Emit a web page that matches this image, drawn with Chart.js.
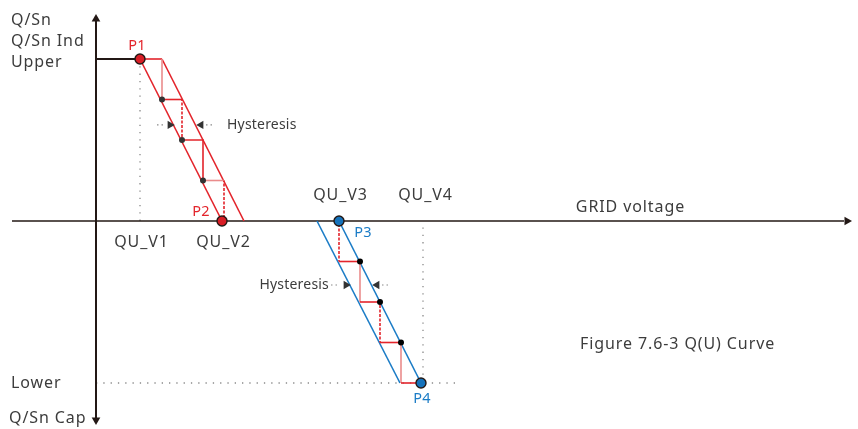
<!DOCTYPE html>
<html>
<head>
<meta charset="utf-8">
<script src="https://cdn.jsdelivr.net/npm/chart.js@4.4.1/dist/chart.umd.min.js"></script>
<style>
    body { margin: 0; background: #ffffff; }
    canvas { display: block; }
</style>
</head>
<body>
<canvas id="quChart" width="858" height="429"></canvas>
<script>
// voltage (x) in arbitrary units from the origin, Q/Sn (y) from -1 (Lower) to 1 (Upper)
const quVoltages = [0.44, 1.26, 2.43, 3.25];          // QU_V1 .. QU_V4
const quLabels = ['QU_V1', 'QU_V2', 'QU_V3', 'QU_V4'];

const inductiveLimit = [[0, 1], [0.44, 1]];
const redLowerEdge = [[0.44, 1], [1.26, 0]];
const redUpperEdge = [[0.66, 1], [1.48, 0]];
const blueLeftEdge = [[2.21, 0], [3.04, -1]];
const blueRightEdge = [[2.43, 0], [3.25, -1]];

const redStairV = [0.44, 0.66, 0.66, 0.86, 0.86, 1.07, 1.07, 1.28, 1.28];
const redStairQ = [1, 1, 0.75, 0.75, 0.5, 0.5, 0.25, 0.25, 0];
const blueStairV = [2.43, 2.43, 2.64, 2.64, 2.84, 2.84, 3.05, 3.05, 3.25];
const blueStairQ = [0, -0.25, -0.25, -0.5, -0.5, -0.75, -0.75, -1, -1];

const redStepDots = [[0.66, 0.75], [0.86, 0.5], [1.07, 0.25]];
const blueStepDots = [[2.64, -0.25], [2.84, -0.5], [3.05, -0.75]];

const redPoints = [[0.44, 1], [1.26, 0]];     // P1, P2
const bluePoints = [[2.43, 0], [3.25, -1]];   // P3, P4

const guideV1 = [[0.44, 1], [0.44, 0]];
const guideV4 = [[3.27, -0.04], [3.27, -1]];
const guideLower = [[0, -1], [3.64, -1]];

// segment look for each stair, one entry per step
const redStairStyle = ['red', 'pink', 'red', 'dot', 'red', 'red', 'pink', 'dot'];
const blueStairStyle = ['dot', 'red', 'pink', 'red', 'dot', 'red', 'pink', 'red'];

const RED = '#e3242b';
const PINK = '#ea8c8c';
const BLUE = '#1b7cc6';
const INK = '#231815';
const GREY_TEXT = '#3c3c3c';

function xy(pairs) {
    return pairs.map(p => ({ x: p[0], y: p[1] }));
}

function zipXY(xs, ys) {
    return xs.map((x, i) => ({ x: x, y: ys[i] }));
}

function line(pairs, color, width, dash) {
    return {
        data: xy(pairs),
        showLine: true,
        borderColor: color,
        borderWidth: width,
        borderDash: dash || [],
        pointRadius: 0,
        fill: false,
    };
}

function stair(xs, ys, styles) {
    return {
        data: zipXY(xs, ys),
        showLine: true,
        borderWidth: 1.6,
        borderColor: RED,
        pointRadius: 0,
        fill: false,
        segment: {
            borderColor: ctx => styles[ctx.p0DataIndex] === 'pink' ? PINK : RED,
            borderDash: ctx => styles[ctx.p0DataIndex] === 'dot' ? [1.5, 3] : [],
        },
    };
}

function markers(pairs, color, radius, border, style, rotation) {
    return {
        data: xy(pairs),
        showLine: false,
        pointRadius: radius,
        pointStyle: style || 'circle',
        rotation: rotation || 0,
        backgroundColor: color,
        borderColor: border,
        borderWidth: border === color ? 0 : 1.4,
    };
}

// axes and hysteresis hints
const yAxisLine = [[0, 1.24], [0, -1.216]];
const xAxisLine = [[-0.84, 0], [7.48, 0]];
const hyst1Left = [[0.61, 0.593], [0.70, 0.593]];
const hyst1Right = [[1.10, 0.593], [1.19, 0.593]];
const hyst2Left = [[2.35, -0.395], [2.44, -0.395]];
const hyst2Right = [[2.86, -0.395], [2.95, -0.395]];

const textLabels = [
    { text: 'Q/Sn', x: -0.85, y: 1.241, align: 'left', color: GREY_TEXT, size: 16 },
    { text: 'Q/Sn Ind', x: -0.85, y: 1.111, align: 'left', color: GREY_TEXT, size: 16 },
    { text: 'Upper', x: -0.85, y: 0.981, align: 'left', color: GREY_TEXT, size: 16 },
    { text: 'Lower', x: -0.85, y: -1.0, align: 'left', color: GREY_TEXT, size: 16 },
    { text: 'Q/Sn Cap', x: -0.87, y: -1.216, align: 'left', color: GREY_TEXT, size: 16 },
    { text: 'P1', x: 0.41, y: 1.08, align: 'center', color: RED, size: 14.5 },
    { text: 'P2', x: 1.05, y: 0.056, align: 'center', color: RED, size: 14.5 },
    { text: 'P3', x: 2.67, y: -0.074, align: 'center', color: BLUE, size: 14.5 },
    { text: 'P4', x: 3.26, y: -1.099, align: 'center', color: BLUE, size: 14.5 },
    { text: 'GRID voltage', x: 5.34, y: 0.086, align: 'center', color: GREY_TEXT, size: 16 },
    { text: 'Figure 7.6-3 Q(U) Curve', x: 4.84, y: -0.765, align: 'left', color: GREY_TEXT, size: 16 },
    { text: 'Hysteresis', x: 1.31, y: 0.593, align: 'left', color: GREY_TEXT, size: 14 },
    { text: 'Hysteresis', x: 2.33, y: -0.395, align: 'right', color: GREY_TEXT, size: 14 },
];
const quLabelY = [-0.13, -0.13, 0.16, 0.16];

const textPlugin = {
    id: 'diagramText',
    afterDatasetsDraw(chart) {
        const ctx = chart.ctx;
        const xs = chart.scales.x;
        const ys = chart.scales.y;
        const all = textLabels.concat(quLabels.map((t, i) => ({
            text: t, x: quVoltages[i] + (i === 3 ? 0.04 : 0.01), y: quLabelY[i],
            align: 'center', color: GREY_TEXT, size: 16
        })));
        ctx.save();
        ctx.textBaseline = 'middle';
        all.forEach(l => {
            ctx.font = l.size + 'px "Noto Sans", sans-serif';
            ctx.letterSpacing = l.size >= 16 ? '0.9px' : '0.2px';
            ctx.fillStyle = l.color;
            ctx.textAlign = l.align;
            let px = xs.getPixelForValue(l.x);
            // letterSpacing adds a trailing gap, shift to keep the text where it belongs
            if (l.align === 'center') px += l.size >= 16 ? 0.45 : 0.1;
            ctx.fillText(l.text, px, ys.getPixelForValue(l.y));
        });
        ctx.restore();
    }
};

const ctx = document.getElementById('quChart').getContext('2d');
new Chart(ctx, {
    type: 'scatter',
    data: {
        datasets: [
            markers(redPoints, '#d81e26', 5, INK),
            markers(bluePoints, '#1572bb', 5, INK),
            markers(redStepDots, '#333333', 3, '#333333'),
            markers(blueStepDots, '#000000', 3, '#000000'),
            markers([[0, 1.247]], INK, 5, INK, 'triangle', 0),
            markers([[0, -1.228]], INK, 5, INK, 'triangle', 180),
            markers([[7.51, 0]], INK, 5, INK, 'triangle', 90),
            markers([[0.74, 0.593], [2.50, -0.395]], '#333333', 4.8, '#333333', 'triangle', 90),
            markers([[1.05, 0.593], [2.81, -0.395]], '#333333', 4.8, '#333333', 'triangle', 270),
            stair(redStairV, redStairQ, redStairStyle),
            stair(blueStairV, blueStairQ, blueStairStyle),
            line(redLowerEdge, RED, 1.6),
            line(redUpperEdge, RED, 1.6),
            line(blueLeftEdge, BLUE, 1.6),
            line(blueRightEdge, BLUE, 1.6),
            line(inductiveLimit, INK, 2),
            line(yAxisLine, INK, 2),
            line(xAxisLine, INK, 1.6),
            line(guideV1, '#8a8a8a', 1.3, [1.3, 6]),
            line(guideV4, '#8a8a8a', 1.3, [1.3, 6]),
            line(guideLower, '#8a8a8a', 1.3, [1.3, 6]),
            line(hyst1Left, '#8a8a8a', 1.2, [1.5, 3]),
            line(hyst1Right, '#8a8a8a', 1.2, [1.5, 3]),
            line(hyst2Left, '#8a8a8a', 1.2, [1.5, 3]),
            line(hyst2Right, '#8a8a8a', 1.2, [1.5, 3]),
        ]
    },
    options: {
        responsive: false,
        animation: false,
        events: [],
        layout: { padding: 0, autoPadding: false },
        plugins: {
            legend: { display: false },
            tooltip: { enabled: false },
        },
        scales: {
            x: { type: 'linear', min: -0.96, max: 7.62, display: false },
            y: { type: 'linear', min: -208 / 162, max: 221 / 162, display: false },
        },
    },
    plugins: [textPlugin],
});
</script>
</body>
</html>
